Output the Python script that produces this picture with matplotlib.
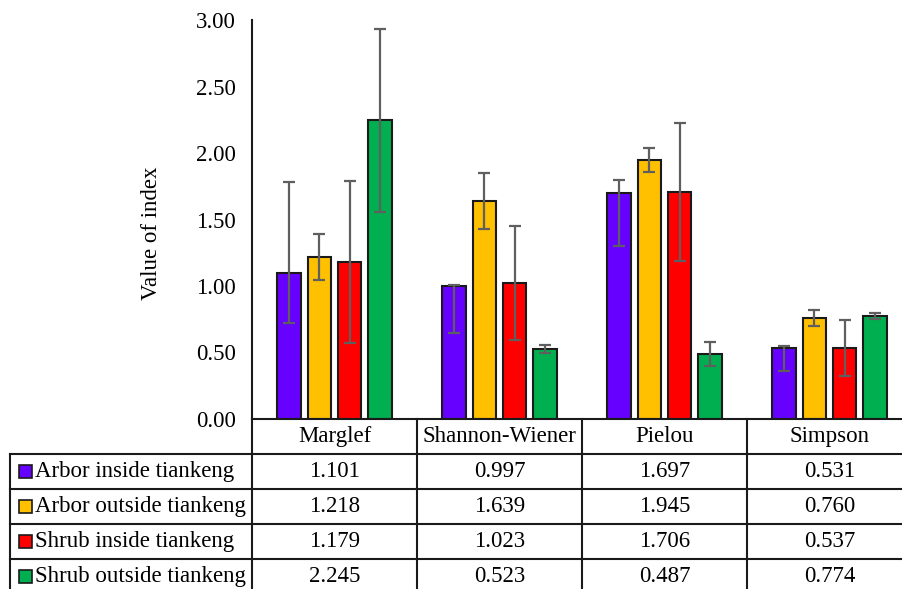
import matplotlib.pyplot as plt
from matplotlib.patches import Rectangle
import numpy as np

# data
categories = ["Marglef", "Shannon-Wiener", "Pielou", "Simpson"]
series_names = ["Arbor inside tiankeng", "Arbor outside tiankeng",
                "Shrub inside tiankeng", "Shrub outside tiankeng"]
arbor_in = [1.101, 0.997, 1.697, 0.531]
arbor_out = [1.218, 1.639, 1.945, 0.760]
shrub_in = [1.179, 1.023, 1.706, 0.537]
shrub_out = [2.245, 0.523, 0.487, 0.774]

# error bars (lower, upper)
arbor_in_err = [[0.38, 0.35, 0.40, 0.17], [0.68, 0.013, 0.10, 0.02]]
arbor_out_err = [[0.17, 0.21, 0.09, 0.06], [0.17, 0.21, 0.09, 0.06]]
shrub_in_err = [[0.61, 0.43, 0.52, 0.21], [0.61, 0.43, 0.52, 0.21]]
shrub_out_err = [[0.69, 0.03, 0.09, 0.02], [0.69, 0.03, 0.09, 0.02]]

colors = ["#6600FF", "#FFC000", "#FF0000", "#00B050"]
yticks = [0.0, 0.5, 1.0, 1.5, 2.0, 2.5, 3.0]

values = [arbor_in, arbor_out, shrub_in, shrub_out]
errors = [arbor_in_err, arbor_out_err, shrub_in_err, shrub_out_err]

plt.rcParams["font.family"] = ["Liberation Serif", "DejaVu Serif"]
FS = 16.5

W, H = 903, 589
fig = plt.figure(figsize=(W / 100, H / 100), dpi=100)

# pixel layout
ax_left, ax_top, ax_bottom = 252, 20, 419
col_w = 165
row_h = 35
ax_right = ax_left + 4 * col_w

ax = fig.add_axes([ax_left / W, (H - ax_bottom) / H,
                   (ax_right - ax_left) / W, (ax_bottom - ax_top) / H])

x = np.arange(len(categories))
step = 0.182
bw = 0.145
for i in range(4):
    ax.bar(x + (i - 1.5) * step, values[i], width=bw, color=colors[i],
           edgecolor="#1a1a1a", linewidth=1.5, zorder=2)
    ax.errorbar(x + (i - 1.5) * step, values[i], yerr=errors[i], fmt="none",
                ecolor="#5f5f5f", elinewidth=1.6, capsize=4.3, capthick=1.6,
                zorder=3)

ax.set_xlim(-0.5, 3.5)
ax.set_ylim(0, 3.0)
ax.set_yticks(yticks)
ax.set_yticklabels([f"{t:.2f}" for t in yticks], fontsize=FS)
ax.tick_params(axis="y", length=0, pad=11.5)
ax.set_xticks([])
for s in ["top", "right"]:
    ax.spines[s].set_visible(False)
for s in ["left", "bottom"]:
    ax.spines[s].set_linewidth(1.5)
    ax.spines[s].set_color("#1a1a1a")

fig.text(152 / W, 1 - 233 / H, "Value of index", rotation=90,
         ha="center", va="center", fontsize=FS)

# data table below
n_rows = 5
tab_bottom = ax_bottom + n_rows * row_h
tax = fig.add_axes([ax_left / W, (H - tab_bottom) / H,
                    (ax_right - ax_left) / W, (tab_bottom - ax_bottom) / H])
tax.set_xlim(-0.5, 3.5)
tax.set_ylim(n_rows, 0)
tax.axis("off")

def px2x(px):
    return -0.5 + (px - ax_left) / col_w

left_edge = px2x(10)
lw = 1.5
lc = "#1a1a1a"
for k in range(5):
    tax.plot([k - 0.5, k - 0.5], [0, n_rows], color=lc, lw=lw, clip_on=False)
tax.plot([left_edge, left_edge], [1, n_rows], color=lc, lw=lw, clip_on=False)
for r in range(1, n_rows + 1):
    tax.plot([left_edge, 3.5], [r, r], color=lc, lw=lw, clip_on=False)

for j, c in enumerate(categories):
    tax.text(j, 0.5, c, ha="center", va="center", fontsize=FS)

for i, name in enumerate(series_names):
    yc = i + 1.5
    tax.add_patch(Rectangle((px2x(19), yc - 6.5 / row_h), 13 / col_w, 13 / row_h,
                            facecolor=colors[i], edgecolor=lc, lw=1.2,
                            clip_on=False))
    tax.text(px2x(35), yc, name, ha="left", va="center", fontsize=FS)
    for j in range(len(categories)):
        tax.text(j, yc, f"{values[i][j]:.3f}", ha="center", va="center",
                 fontsize=FS)

fig.savefig("out.png", dpi=100)
